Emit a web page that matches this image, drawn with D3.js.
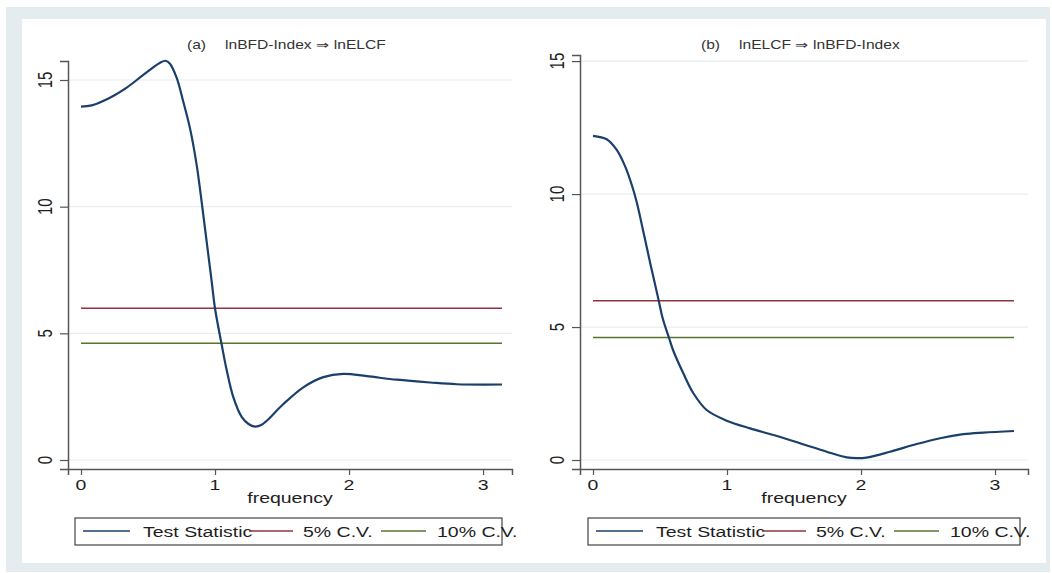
<!DOCTYPE html>
<html>
<head>
<meta charset="utf-8">
<script src="https://cdn.jsdelivr.net/npm/d3@7"></script>
<style>
  body { margin: 0; background: #fff; }
  svg text { font-family: "Liberation Sans", Arial, sans-serif; }
</style>
</head>
<body>
<div id="chart"></div>
<script>
// frequency grid and test statistics
var freqA = [0, 0.08, 0.216, 0.341, 0.465, 0.59, 0.63, 0.664, 0.714, 0.763, 0.813, 0.863, 0.9, 0.925, 0.975, 1.0, 1.05, 1.087, 1.137, 1.199, 1.25, 1.299, 1.345, 1.386, 1.51, 1.659, 1.808, 1.957, 2.132, 2.356, 2.604, 2.804, 3.1416];
var statA = [13.95, 14.0, 14.3, 14.7, 15.2, 15.68, 15.76, 15.64, 15.08, 14.15, 13.1, 11.65, 10.2, 9.15, 7.05, 5.98, 4.55, 3.55, 2.47, 1.7, 1.42, 1.32, 1.38, 1.55, 2.21, 2.87, 3.27, 3.40, 3.31, 3.17, 3.06, 2.99, 2.98];

var freqB = [0, 0.102, 0.177, 0.239, 0.289, 0.326, 0.375, 0.425, 0.488, 0.52, 0.57, 0.6, 0.674, 0.749, 0.848, 0.998, 1.172, 1.346, 1.545, 1.744, 1.893, 1.97, 2.04, 2.216, 2.415, 2.59, 2.763, 2.913, 3.1416];
var statB = [12.19, 12.06, 11.66, 11.05, 10.35, 9.7, 8.6, 7.45, 6.05, 5.33, 4.55, 4.1, 3.26, 2.51, 1.88, 1.48, 1.19, 0.94, 0.63, 0.31, 0.1, 0.07, 0.09, 0.31, 0.6, 0.82, 0.97, 1.03, 1.09];

var cv5 = 5.99, cv10 = 4.605;
var xTicks = [0, 1, 2, 3];
var yTicks = [0, 5, 10, 15];
var tags = ["(a)", "(b)"];
var titles = ["lnBFD-Index \u21d2 lnELCF", "lnELCF \u21d2 lnBFD-Index"];
var legendLabels = ["Test Statistic", "5% C.V.", "10% C.V."];
var colors = ["#1a3f6b", "#90353b", "#55752f"];

var W = 1052, H = 573, SX = 1.3;

var svg = d3.select("#chart").append("svg")
    .attr("width", W)
    .attr("height", H);

// outer frame
svg.append("rect").attr("x", 6).attr("y", 7).attr("width", 1044).attr("height", 565)
    .attr("fill", "#e4ecf0");
svg.append("rect").attr("x", 22).attr("y", 19).attr("width", 1024).attr("height", 544)
    .attr("fill", "#fff");

// text that is stretched sideways like the picture
function stext(g, x, y, str, size, anchor, rot) {
  return g.append("text")
    .attr("transform", "translate(" + x + "," + y + ") scale(" + SX + ",1)" + (rot ? " rotate(-90)" : ""))
    .attr("text-anchor", anchor)
    .style("font-size", size + "px")
    .attr("fill", "#1e1e1e")
    .text(str);
}

function panel(i, freq, stat, box) {
  var g = svg.append("g");
  var x = d3.scaleLinear().domain(box.xd).range([box.left, box.right]);
  var y = d3.scaleLinear().domain(box.yd).range([box.bottom, box.top]);

  // grid
  g.selectAll(".grid").data(yTicks).enter().append("line")
    .attr("x1", box.left).attr("x2", box.right)
    .attr("y1", function(d){ return y(d); }).attr("y2", function(d){ return y(d); })
    .attr("stroke", "#e6eef1").attr("stroke-width", 1.2);

  // y axis
  var ya = g.append("g")
    .attr("transform", "translate(" + box.left + ",0)")
    .call(d3.axisLeft(y).tickValues(yTicks).tickSize(8).tickFormat(""));
  ya.select(".domain").attr("stroke", "#555").attr("stroke-width", 1.5);
  ya.selectAll(".tick line").attr("stroke", "#555").attr("stroke-width", 1.2);
  yTicks.forEach(function(t){
    stext(g, box.left - 16, y(t), String(t), 15, "middle", true);
  });

  // x axis
  var xa = g.append("g")
    .attr("transform", "translate(0," + box.bottom + ")")
    .call(d3.axisBottom(x).tickValues(xTicks).tickSize(6).tickFormat(""));
  xa.select(".domain").attr("stroke", "#555").attr("stroke-width", 1.5);
  xa.selectAll(".tick line").attr("stroke", "#555").attr("stroke-width", 1.2);
  xTicks.forEach(function(t){
    stext(g, x(t), 490, String(t), 15, "middle");
  });
  var mid = (box.left + box.right) / 2;
  stext(g, mid, 503, "frequency", 15, "middle");

  // title
  stext(g, mid - 103, 49, tags[i], 12, "start").attr("fill", "#333");
  stext(g, mid - 65, 49, titles[i], 12, "start").attr("fill", "#333");

  // critical values
  var fx = d3.extent(freq);
  [cv5, cv10].forEach(function(c, k){
    g.append("line")
      .attr("x1", x(fx[0])).attr("x2", x(fx[1]))
      .attr("y1", y(c)).attr("y2", y(c))
      .attr("stroke", colors[k + 1]).attr("stroke-width", 1.5);
  });

  // test statistic
  var line = d3.line()
    .x(function(d, j){ return x(freq[j]); })
    .y(function(d){ return y(d); })
    .curve(d3.curveCatmullRom.alpha(0.5));
  g.append("path").datum(stat)
    .attr("d", line)
    .attr("fill", "none")
    .attr("stroke", colors[0])
    .attr("stroke-width", 2.2);

  // legend
  var lx = box.legLeft;
  g.append("rect").attr("x", lx).attr("y", 518).attr("width", box.legW).attr("height", 27)
    .attr("fill", "#fff").attr("stroke", "#444").attr("stroke-width", 1.2);
  var lineOff = [[8, 55], [174, 218], [306, 351]];
  var textOff = [68, 228, 362];
  legendLabels.forEach(function(lab, k){
    g.append("line")
      .attr("x1", lx + lineOff[k][0]).attr("x2", lx + lineOff[k][1])
      .attr("y1", 531).attr("y2", 531)
      .attr("stroke", colors[k]).attr("stroke-width", 1.3);
    stext(g, lx + textOff[k], 537, lab, 15, "start");
  });
}

panel(0, freqA, statA, {left: 68, right: 512, top: 61, bottom: 469,
  xd: [-0.097, 3.216], yd: [-0.355, 15.75], legLeft: 75, legW: 427});
panel(1, freqB, statB, {left: 580, right: 1028, top: 55, bottom: 469,
  xd: [-0.097, 3.246], yd: [-0.338, 15.23], legLeft: 588, legW: 432});
</script>
</body>
</html>
